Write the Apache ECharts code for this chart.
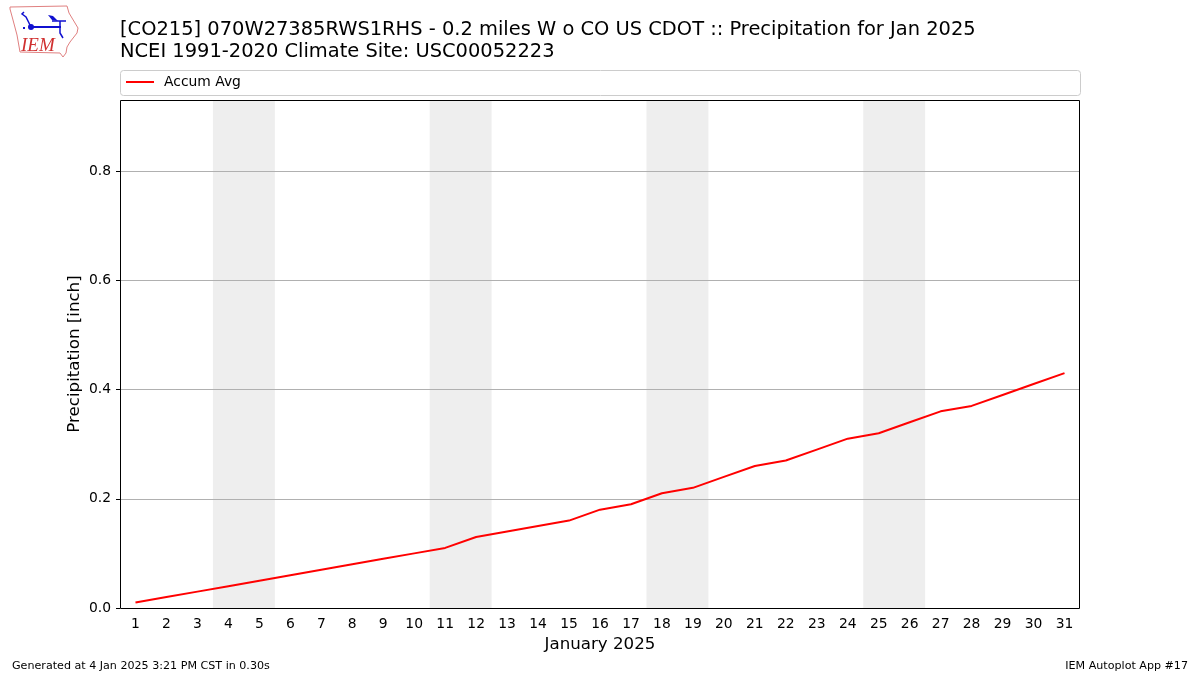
<!DOCTYPE html>
<html>
<head>
<meta charset="utf-8">
<style>
  html, body { margin: 0; padding: 0; background: #fff; }
  #main { width: 1200px; height: 675px; }
</style>
<script src="https://cdn.jsdelivr.net/npm/echarts@6/dist/echarts.min.js"></script>
</head>
<body>
<div id="main"></div>
<script>
const days = ['1','2','3','4','5','6','7','8','9','10','11','12','13','14','15','16','17','18','19','20','21','22','23','24','25','26','27','28','29','30','31']
const accumAvg = [0.01,0.02,0.03,0.04,0.05,0.06,0.07,0.08,0.09,0.10,0.11,0.13,0.14,0.15,0.16,0.18,0.19,0.21,0.22,0.24,0.26,0.27,0.29,0.31,0.32,0.34,0.36,0.37,0.39,0.41,0.43]
// 周末范围 (day edges)
const weekendStart = [3.5, 10.5, 17.5, 24.5]
const weekendEnd = [5.5, 12.5, 19.5, 26.5]
const yMax = 0.93
const font = 'DejaVu Sans'

const myChart = echarts.init(document.getElementById('main'), null, { renderer: 'canvas' })

const titleStyle = { fontFamily: font, fontSize: 19.44, fill: '#000', verticalAlign: 'middle' }
const smallStyle = { fontFamily: font, fontSize: 11.11, fill: '#000', verticalAlign: 'middle' }
const blue = '#1010d0'

const option = {
  backgroundColor: '#fff',
  animation: false,
  grid: { left: 120, right: 120, top: 100, bottom: 67 },
  legend: {
    data: ['Accum Avg'],
    left: 120,
    top: 75,
    itemWidth: 28,
    itemHeight: 2,
    padding: [0, 0, 0, 5],
    textStyle: { fontFamily: font, fontSize: 13.89, color: '#000', padding: [0, 0, 0, 5] },
  },
  xAxis: [
    {
      type: 'category',
      data: days,
      boundaryGap: true,
      z: 1,
      name: 'January 2025',
      nameLocation: 'middle',
      nameGap: 28,
      nameTextStyle: { fontFamily: font, fontSize: 16.67, color: '#000' },
      axisLine: { show: false },
      axisTick: { alignWithLabel: true, length: 4, lineStyle: { color: '#000' } },
      axisLabel: { interval: 0, fontFamily: font, fontSize: 13.89, color: '#000', margin: 9 },
      splitLine: { show: false },
    },
    {
      // hidden scale for the weekend bands
      type: 'value',
      min: 0.5,
      max: 31.5,
      show: false,
    },
  ],
  yAxis: {
    type: 'value',
    min: 0,
    max: yMax,
    interval: 0.2,
    z: 1,
    name: 'Precipitation [inch]',
    nameLocation: 'middle',
    nameGap: 37,
    nameMoveOverlap: false,
    nameTextStyle: { fontFamily: font, fontSize: 16.67, color: '#000' },
    axisLine: { show: false },
    axisTick: { show: true, length: 4, lineStyle: { color: '#000' } },
    axisLabel: { fontFamily: font, fontSize: 13.89, color: '#000', margin: 9, padding: [4, 0, 0, 0], showMaxLabel: false, formatter: (v) => v.toFixed(1) },
    splitLine: { show: true, showMaxLine: false, showMinLine: false, lineStyle: { color: '#b0b0b0', width: 1 } },
  },
  series: [
    {
      name: 'Weekend',
      type: 'line',
      xAxisIndex: 1,
      z: 0,
      data: [],
      silent: true,
      markArea: {
        z: 0,
        silent: true,
        itemStyle: { color: '#eeeeee' },
        data: weekendStart.map((s, i) => [{ xAxis: s, yAxis: 0 }, { xAxis: weekendEnd[i], yAxis: yMax }]),
      },
    },
    {
      name: 'Accum Avg',
      type: 'line',
      z: 3,
      data: accumAvg,
      showSymbol: false,
      symbol: 'none',
      lineStyle: { color: '#ff0000', width: 2 },
      itemStyle: { color: '#ff0000' },
    },
  ],
  graphic: [
    // legend frame
    { type: 'rect', z: -1, shape: { x: 120.5, y: 70.5, width: 960, height: 25, r: 3 }, style: { fill: '#fff', stroke: '#cccccc', lineWidth: 1 } },
    // axes frame
    { type: 'rect', z: 10, shape: { x: 120.5, y: 100.5, width: 959, height: 508 }, style: { fill: 'none', stroke: '#000', lineWidth: 1 } },
    { type: 'text', x: 120, y: 30, style: { ...titleStyle, text: '[CO215] 070W27385RWS1RHS - 0.2 miles W o CO US CDOT :: Precipitation for Jan 2025' } },
    { type: 'text', x: 120, y: 52, style: { ...titleStyle, text: 'NCEI 1991-2020 Climate Site: USC00052223' } },
    { type: 'text', x: 12, y: 666, style: { ...smallStyle, text: 'Generated at 4 Jan 2025 3:21 PM CST in 0.30s' } },
    { type: 'text', x: 1188, y: 666, style: { ...smallStyle, text: 'IEM Autoplot App #17', align: 'right' } },
    // IEM logo
    { type: 'polygon', shape: { points: [[10,7],[67,6],[69,13],[78,28],[77,33],[70,42],[67,47],[66,53],[63,57],[60,53],[20,52],[17,35],[13,20],[10,9]] }, style: { fill: 'none', stroke: '#e08080', lineWidth: 1 } },
    { type: 'text', x: 21, y: 46, style: { text: 'IEM', fontFamily: 'Liberation Serif', fontStyle: 'italic', fontSize: 19, fill: '#d03030', verticalAlign: 'middle' } },
    { type: 'polyline', shape: { points: [[31,27],[61,27]] }, style: { fill: 'none', stroke: blue, lineWidth: 2 } },
    { type: 'polyline', shape: { points: [[24,12],[22,14],[26,17],[31,27]] }, style: { fill: 'none', stroke: blue, lineWidth: 1.5 } },
    { type: 'circle', shape: { cx: 31, cy: 27, r: 3 }, style: { fill: blue } },
    { type: 'polygon', shape: { points: [[48,15],[53,16],[58,21],[52,20]] }, style: { fill: blue } },
    { type: 'polyline', shape: { points: [[52,21],[66,21]] }, style: { fill: 'none', stroke: blue, lineWidth: 1.5 } },
    { type: 'polyline', shape: { points: [[60,21],[60,33],[63,38]] }, style: { fill: 'none', stroke: blue, lineWidth: 1.5 } },
    { type: 'polyline', shape: { points: [[23,28],[25,28]] }, style: { fill: 'none', stroke: blue, lineWidth: 2 } },
  ],
}

myChart.setOption(option, true)
</script>
</body>
</html>
